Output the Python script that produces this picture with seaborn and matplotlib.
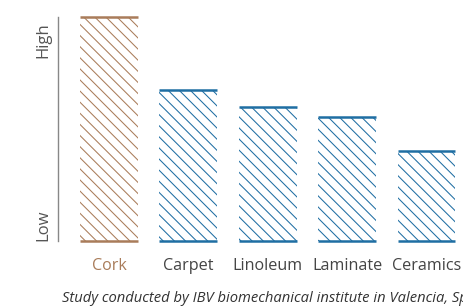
import matplotlib
matplotlib.use('Agg')
import matplotlib.pyplot as plt
import seaborn as sns

floors = ['Cork', 'Carpet', 'Linoleum', 'Laminate', 'Ceramics']
comfort = [1.0, 0.674, 0.598, 0.554, 0.402]
colors = ['#a97c5a', '#1f6ea3', '#1f6ea3', '#1f6ea3', '#1f6ea3']
caption = 'Study conducted by IBV biomechanical institute in Valencia, Spain'

sns.set_style('white')
plt.rcParams['font.family'] = ['Open Sans', 'DejaVu Sans']
plt.rcParams['hatch.linewidth'] = 0.75

fig = plt.figure(figsize=(4.63, 3.07), dpi=100)
ax = fig.add_axes([58 / 463, 66 / 307, 405 / 463, 224 / 307])

sns.barplot(x=floors, y=comfort, hue=floors, palette=colors, legend=False,
            width=0.73, ax=ax)

for patch, c in zip(ax.patches, colors):
    patch.set_facecolor('none')
    patch.set_edgecolor(c)
    patch.set_linewidth(0)
    patch.set_hatch('\\\\\\')

# solid top and bottom edges
for i, (v, c) in enumerate(zip(comfort, colors)):
    ax.hlines([0, v], i - 0.365, i + 0.365, color=c, lw=1.8, clip_on=False)

ax.set_xlim(-0.642, 4.46)
ax.set_ylim(0, 1)
ax.set_yticks([])
ax.set_xlabel('')
ax.set_ylabel('')
for s in ['top', 'right', 'bottom']:
    ax.spines[s].set_visible(False)
ax.spines['left'].set_color('#888888')
ax.spines['left'].set_linewidth(1)

ax.tick_params(axis='x', length=0, pad=12, labelsize=11.6, labelcolor='#444444')
ax.get_xticklabels()[0].set_color(colors[0])

ax.text(-0.037, 0.975, 'High', transform=ax.transAxes, rotation=90,
        ha='center', va='top', fontsize=12, color='#555555')
ax.text(-0.037, 0.0, 'Low', transform=ax.transAxes, rotation=90,
        ha='center', va='bottom', fontsize=12, color='#555555')

fig.text(62 / 463, 1 - 298 / 307, caption, style='italic', fontsize=10.6,
         color='#333333', va='center')

fig.savefig('out.png', dpi=100)
